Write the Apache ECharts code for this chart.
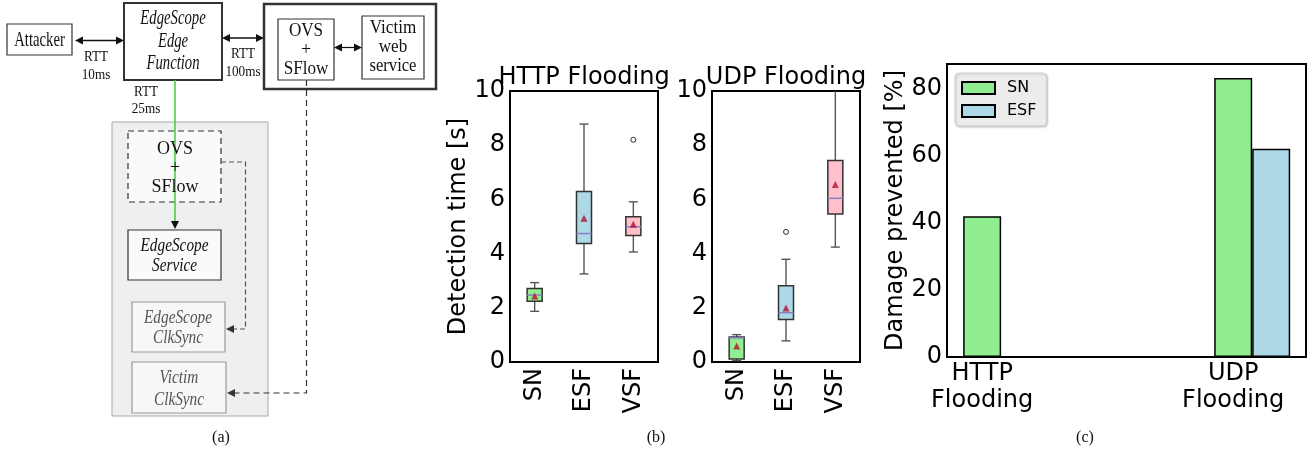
<!DOCTYPE html>
<html>
<head>
<meta charset="utf-8">
<script src="https://cdn.jsdelivr.net/npm/echarts@6/dist/echarts.min.js"></script>
<style>
  html, body { margin: 0; padding: 0; background: #fff; }
  #chart { width: 1315px; height: 456px; }
</style>
</head>
<body>
<div id="chart"></div>
<script>
// (b) detection time boxplots, each row: [min, Q1, median, Q3, max]
var boxCategories = ['SN', 'ESF', 'VSF']
var httpBoxes = [[1.87, 2.24, 2.47, 2.71, 2.93], [3.25, 4.37, 4.74, 6.29, 8.78], [4.06, 4.67, 4.99, 5.36, 5.91]]
var httpMeans = [2.44, 5.30, 5.08]
var httpOutliers = [[2, 8.2]]
var udpBoxes = [[0.05, 0.11, 0.89, 0.92, 1.01], [0.78, 1.57, 1.82, 2.81, 3.79], [4.24, 5.46, 6.04, 7.44, 10.6]]
var udpMeans = [0.59, 1.99, 6.55]
var udpOutliers = [[1, 4.8]]
var detectionTicks = [0, 2, 4, 6, 8, 10]

// (c) damage prevented
var attackTypes = ['HTTP\nFlooding', 'UDP\nFlooding']
var snDamage = [42, 83.3]
var esfDamage = [0, 62.2]
var damageTicks = [0, 20, 40, 60, 80]

var boxColors = ['#90ee90', '#add8e6', '#ffc0cb']
var FONT = 'DejaVu Sans'

var chartDom = document.querySelector('#chart')
var myChart = echarts.init(chartDom)

function renderBox (params, api) {
  var i = api.value(0)
  var lo = api.coord([i, api.value(1)])
  var q1 = api.coord([i, api.value(2)])
  var md = api.coord([i, api.value(3)])
  var q3 = api.coord([i, api.value(4)])
  var hi = api.coord([i, api.value(5)])
  var cx = lo[0]
  var half = 7.5
  var cap = 4.5
  var wStyle = { stroke: '#555', lineWidth: 1.4 }
  return {
    type: 'group',
    children: [
      { type: 'line', shape: { x1: cx, y1: lo[1], x2: cx, y2: q1[1] }, style: wStyle },
      { type: 'line', shape: { x1: cx, y1: q3[1], x2: cx, y2: hi[1] }, style: wStyle },
      { type: 'line', shape: { x1: cx - cap, y1: lo[1], x2: cx + cap, y2: lo[1] }, style: wStyle },
      { type: 'line', shape: { x1: cx - cap, y1: hi[1], x2: cx + cap, y2: hi[1] }, style: wStyle },
      {
        type: 'rect',
        shape: { x: cx - half, y: q3[1], width: half * 2, height: q1[1] - q3[1] },
        style: { fill: boxColors[i], stroke: '#333', lineWidth: 1.5 }
      },
      { type: 'line', shape: { x1: cx - half, y1: md[1], x2: cx + half, y2: md[1] }, style: { stroke: '#8a80c4', lineWidth: 1.5 } }
    ]
  }
}

function boxAxisX (idx) {
  return {
    gridIndex: idx,
    type: 'category',
    data: boxCategories,
    boundaryGap: true,
    axisLine: { show: false },
    axisTick: { show: false },
    axisLabel: { rotate: 90, fontSize: 24, color: '#000', fontFamily: FONT, margin: 6 }
  }
}

function boxAxisY (idx, name) {
  return {
    gridIndex: idx,
    type: 'value',
    min: 0,
    max: 10,
    interval: 2,
    name: name,
    nameLocation: 'middle',
    nameGap: 38,
    nameTextStyle: { fontSize: 24, color: '#000', fontFamily: FONT },
    splitLine: { show: false },
    axisLine: { show: false },
    axisTick: { show: false },
    axisLabel: {
      fontSize: 24, color: '#000', fontFamily: FONT, margin: 5, padding: [6, 0, 0, 0],
      formatter: function (v) { return detectionTicks.indexOf(v) >= 0 ? String(v) : '' }
    }
  }
}

function boxSeries (idx, boxes, means, outliers) {
  return [
    {
      type: 'custom',
      xAxisIndex: idx,
      yAxisIndex: idx,
      clip: true,
      renderItem: renderBox,
      encode: { x: 0, y: [1, 2, 3, 4, 5] },
      data: boxes.map(function (b, i) { return [i].concat(b) })
    },
    {
      type: 'scatter',
      xAxisIndex: idx,
      yAxisIndex: idx,
      symbol: 'triangle',
      symbolSize: 7,
      z: 5,
      itemStyle: { color: '#b5112f' },
      data: means.map(function (m, i) { return [i, m] })
    },
    {
      type: 'scatter',
      xAxisIndex: idx,
      yAxisIndex: idx,
      symbol: 'circle',
      symbolSize: 5,
      z: 5,
      itemStyle: { color: '#fff', borderColor: '#000', borderWidth: 1 },
      data: outliers
    }
  ]
}

// ---- diagram (a) helpers ----
var serif = '"Liberation Serif", "Times New Roman", serif'
function rect (x, y, w, h, style) {
  return { type: 'rect', shape: { x: x, y: y, width: w, height: h }, style: Object.assign({ fill: '#fff', stroke: '#333', lineWidth: 1.2 }, style) }
}
function txt (x, y, text, size, opts) {
  opts = opts || {}
  return {
    type: 'text', x: x, y: y, scaleX: opts.sx || 1, z: 10,
    style: {
      text: text,
      font: (opts.italic ? 'italic ' : '') + size + 'px ' + serif,
      fill: opts.color || '#111',
      align: 'center',
      verticalAlign: 'middle'
    }
  }
}
function line (pts, style) {
  return { type: 'polyline', shape: { points: pts }, style: Object.assign({ stroke: '#111', lineWidth: 1.5, fill: null }, style) }
}
function head (x, y, dir, color) {
  var L = 8, W = 4, p
  if (dir === 'left') p = [[x, y], [x + L, y - W], [x + L, y + W]]
  else if (dir === 'right') p = [[x, y], [x - L, y - W], [x - L, y + W]]
  else p = [[x, y], [x - W, y - L], [x + W, y - L]]
  return { type: 'polygon', shape: { points: p }, style: { fill: color || '#111' } }
}

var diagram = [
  rect(112, 122, 156, 294, { fill: '#efefef', stroke: '#a8a8a8', lineWidth: 1 }),
  rect(7, 24, 65, 31),
  txt(39.5, 40, 'Attacker', 21, { sx: 0.7 }),
  rect(124, 3, 98, 77, { lineWidth: 2 }),
  txt(173, 18, 'EdgeScope', 21, { italic: true, sx: 0.7 }),
  txt(173, 41.5, 'Edge', 21, { italic: true, sx: 0.7 }),
  txt(173, 63, 'Function', 21, { italic: true, sx: 0.7 }),
  rect(264, 4, 172, 85, { lineWidth: 2.5 }),
  rect(278, 19, 56, 61),
  txt(306, 31.5, 'OVS', 18, { sx: 0.95 }),
  txt(306, 50, '+', 18),
  txt(306, 69, 'SFlow', 18, { sx: 0.95 }),
  rect(362, 16, 62, 63),
  txt(393, 28, 'Victim', 18, { sx: 0.95 }),
  txt(393, 47.5, 'web', 18, { sx: 0.95 }),
  txt(393, 66.5, 'service', 18, { sx: 0.92 }),
  line([[80, 40.5], [119, 40.5]]), head(75, 40.5, 'left'), head(124, 40.5, 'right'),
  line([[227, 38], [259, 38]]), head(222, 38, 'left'), head(264, 38, 'right'),
  line([[339, 47.5], [357, 47.5]], { lineWidth: 1.2 }), head(334, 47.5, 'left'), head(362, 47.5, 'right'),
  txt(96, 57, 'RTT', 15, { sx: 0.88 }), txt(96, 75, '10ms', 15, { sx: 0.88 }),
  txt(243, 54, 'RTT', 15, { sx: 0.88 }), txt(243, 72, '100ms', 15, { sx: 0.88 }),
  txt(146, 92, 'RTT', 15, { sx: 0.88 }), txt(146, 109, '25ms', 15, { sx: 0.88 }),
  rect(128, 131, 93, 71, { fill: '#fafafa', lineDash: [6, 4] }),
  line([[175, 80], [175, 222]], { stroke: '#3fcf3f', lineWidth: 1.5 }), head(175, 229, 'down'),
  txt(175, 149, 'OVS', 18), txt(175, 168, '+', 18), txt(175, 187, 'SFlow', 18),
  rect(128, 230, 93, 50, { fill: '#fafafa' }),
  txt(174.5, 246.5, 'EdgeScope', 18, { italic: true, sx: 0.85 }),
  txt(174.5, 266.5, 'Service', 18, { italic: true, sx: 0.85 }),
  rect(132, 302, 93, 50, { fill: '#f7f7f7', stroke: '#999' }),
  txt(178, 318, 'EdgeScope', 18, { italic: true, sx: 0.85, color: '#555' }),
  txt(178, 338, 'ClkSync', 18, { italic: true, sx: 0.85, color: '#555' }),
  rect(132, 362, 94, 51, { fill: '#f7f7f7', stroke: '#999' }),
  txt(179, 378, 'Victim', 18, { italic: true, sx: 0.85, color: '#555' }),
  txt(179, 400, 'ClkSync', 18, { italic: true, sx: 0.85, color: '#555' }),
  line([[221, 162], [245.5, 162], [245.5, 329], [232, 329]], { stroke: '#555', lineWidth: 1.2, lineDash: [5, 3] }),
  head(226, 329, 'left', '#333'),
  line([[306.5, 80], [306.5, 393], [233, 393]], { stroke: '#333', lineWidth: 1.2, lineDash: [6, 4] }),
  head(227, 393, 'left', '#333'),
  txt(221, 438, '(a)', 16),
  txt(656, 438, '(b)', 16),
  txt(1085, 438, '(c)', 16)
]

var option = {
  animation: false,
  backgroundColor: '#fff',
  textStyle: { fontFamily: FONT },
  title: [
    { text: 'HTTP Flooding', left: 584, top: 66, textAlign: 'center', padding: 0, textStyle: { fontSize: 24, fontWeight: 'normal', color: '#000', fontFamily: FONT } },
    { text: 'UDP Flooding', left: 786, top: 66, textAlign: 'center', padding: 0, textStyle: { fontSize: 24, fontWeight: 'normal', color: '#000', fontFamily: FONT } }
  ],
  legend: {
    data: ['SN', 'ESF'],
    orient: 'vertical',
    left: 955,
    top: 73,
    itemWidth: 33,
    itemHeight: 12,
    itemGap: 7,
    padding: [7, 10, 7, 6],
    backgroundColor: '#ececec',
    borderColor: '#cfcfcf',
    borderWidth: 1,
    borderRadius: 4,
    shadowColor: 'rgba(0,0,0,0.2)',
    shadowBlur: 2,
    shadowOffsetX: 1,
    shadowOffsetY: 1,
    icon: 'rect',
    textStyle: { fontSize: 16, color: '#000', fontFamily: FONT, padding: [0, 0, 0, 7] }
  },
  grid: [
    { left: 510, top: 91, width: 148, height: 271, show: true, borderColor: '#000', borderWidth: 2, backgroundColor: 'transparent' },
    { left: 712, top: 91, width: 148, height: 271, show: true, borderColor: '#000', borderWidth: 2, backgroundColor: 'transparent' },
    { left: 947, top: 64, width: 359, height: 293, show: true, borderColor: '#000', borderWidth: 2, backgroundColor: 'transparent' }
  ],
  xAxis: [
    boxAxisX(0),
    boxAxisX(1),
    {
      gridIndex: 2,
      type: 'value',
      min: -0.14,
      max: 1.29,
      splitLine: { show: false },
      axisLine: { show: false },
      axisTick: { show: false },
      axisLabel: {
        fontSize: 24, color: '#000', fontFamily: FONT, margin: 3, lineHeight: 27,
        customValues: attackTypes.map(function (t, i) { return i }),
        formatter: function (v) { return attackTypes[Math.round(v)] || '' }
      }
    }
  ],
  yAxis: [
    boxAxisY(0, 'Detection time [s]'),
    boxAxisY(1, ''),
    {
      gridIndex: 2,
      type: 'value',
      min: 0,
      max: 87.5,
      name: 'Damage prevented [%]',
      nameLocation: 'middle',
      nameGap: 38,
      nameTextStyle: { fontSize: 24, color: '#000', fontFamily: FONT },
      splitLine: { show: false },
      axisLine: { show: false },
      axisTick: { show: false },
      axisLabel: {
        fontSize: 24, color: '#000', fontFamily: FONT, margin: 5, padding: [6, 0, 0, 0],
        customValues: damageTicks,
        formatter: function (v) { return String(v) }
      }
    }
  ],
  graphic: diagram,
  series: boxSeries(0, httpBoxes, httpMeans, httpOutliers)
    .concat(boxSeries(1, udpBoxes, udpMeans, udpOutliers))
    .concat([
      // empty spacer so that the SN bar sits centred on its tick
      { name: 'spacer', type: 'bar', xAxisIndex: 2, yAxisIndex: 2, barWidth: 38, barGap: '0%', data: [] },
      {
        name: 'SN', type: 'bar', xAxisIndex: 2, yAxisIndex: 2, barWidth: 38, barGap: '0%',
        itemStyle: { color: '#90ee90', borderColor: '#000', borderWidth: 1.5 },
        data: snDamage.map(function (v, i) { return [i, v] })
      },
      {
        name: 'ESF', type: 'bar', xAxisIndex: 2, yAxisIndex: 2, barWidth: 38, barGap: '0%',
        itemStyle: { color: '#add8e6', borderColor: '#000', borderWidth: 1.5 },
        data: esfDamage.map(function (v, i) { return [i, v] })
      }
    ])
}

option && myChart.setOption(option)
</script>
</body>
</html>
